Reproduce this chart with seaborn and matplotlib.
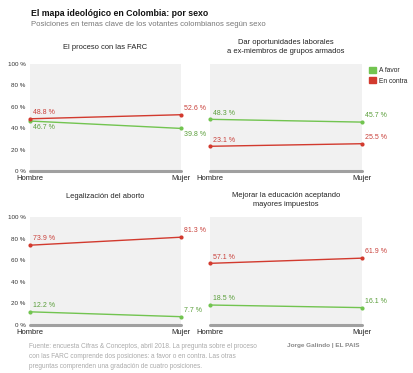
import pandas as pd
import seaborn as sns
import matplotlib.pyplot as plt
import matplotlib.patches as mpatches

# Datos (porcentaje)
sexos = ["Hombre", "Mujer"]
titulos = [
    "El proceso con las FARC",
    "Dar oportunidades laborales\na ex-miembros de grupos armados",
    "Legalización del aborto",
    "Mejorar la educación aceptando\nmayores impuestos",
]
a_favor = [
    [46.7, 39.8],
    [48.3, 45.7],
    [12.2, 7.7],
    [18.5, 16.1],
]
en_contra = [
    [48.8, 52.6],
    [23.1, 25.5],
    [73.9, 81.3],
    [57.1, 61.9],
]
yticks = [0, 20, 40, 60, 80, 100]

verde = "#72c450"
rojo = "#d23a2e"
verde_txt = "#5a9e3a"
rojo_txt = "#c9403a"

sns.set_theme(style="white")
plt.rcParams['font.family'] = ['Liberation Sans', 'DejaVu Sans']

fig = plt.figure(figsize=(4.14, 3.73), dpi=100)
W, H = 414, 373

# posiciones de los paneles en px: (izq, der, arriba, abajo)
cajas = [(30, 181, 64, 171), (210, 362, 64, 171), (30, 181, 217, 325), (210, 362, 217, 325)]
pads = [11, 8, 14, 8]

for i, (x0, x1, yt, yb) in enumerate(cajas):
    ax = fig.add_axes([x0 / W, 1 - yb / H, (x1 - x0) / W, (yb - yt) / H])
    ax.set_facecolor("#f1f1f1")
    df = pd.DataFrame({
        "x": [0, 1, 0, 1],
        "valor": a_favor[i] + en_contra[i],
        "serie": ["A favor", "A favor", "En contra", "En contra"],
    })
    sns.lineplot(data=df, x="x", y="valor", hue="serie",
                 palette={"A favor": verde, "En contra": rojo},
                 marker="o", markersize=3, markeredgewidth=0, linewidth=1,
                 legend=False, ax=ax)
    for l in ax.lines:
        l.set_clip_on(False)
    ax.set_xlim(0, 1)
    ax.set_ylim(0, 100)
    for s in ax.spines.values():
        s.set_visible(False)
    ax.axhline(0, color="#a0a0a0", lw=2.2, clip_on=False, zorder=1)
    ax.set_xticks([0, 1])
    ax.set_xticklabels(sexos, fontsize=5.5, color="#222222")
    ax.tick_params(axis="x", length=0, pad=3)
    ax.set_xlabel("")
    ax.set_ylabel("")
    if i % 2 == 0:
        ax.set_yticks(yticks)
        ax.set_yticklabels([f"{v} %" for v in yticks], fontsize=4.5, color="#333333")
        ax.tick_params(axis="y", length=0, pad=3)
    else:
        ax.set_yticks([])
    ax.set_title(titulos[i], fontsize=5.4, color="#222222", pad=pads[i],
                 linespacing=1.35)

    # etiquetas de valores
    for vals, col in ((a_favor[i], verde_txt), (en_contra[i], rojo_txt)):
        for j, v in enumerate(vals):
            abajo = (i == 0 and col == verde_txt)
            dy = -4.5 if abajo else 4.5
            ax.annotate(f"{v} %", (j, v), xytext=(2.5, dy), textcoords="offset points",
                        fontsize=5, color=col, ha="left", va="center",
                        annotation_clip=False)

    if i == 1:
        h = [mpatches.Patch(color=verde, label="A favor"),
             mpatches.Patch(color=rojo, label="En contra")]
        ax.legend(handles=h, loc="upper left", bbox_to_anchor=(1.03, 1.0), frameon=False,
                  fontsize=4.8, handlelength=1, handleheight=1, handletextpad=0.5,
                  labelspacing=0.5, borderaxespad=0)

fig.text(31 / W, 1 - 14 / H, "El mapa ideológico en Colombia: por sexo",
         fontsize=6.3, fontweight="bold", color="#111111", va="center")
fig.text(31 / W, 1 - 25 / H, "Posiciones en temas clave de los votantes colombianos según sexo",
         fontsize=5.6, color="#777777", va="center")
fig.text(29 / W, 1 - 342.5 / H,
         "Fuente: encuesta Cifras & Conceptos, abril 2018. La pregunta sobre el proceso\n"
         "con las FARC comprende dos posiciones: a favor o en contra. Las otras\n"
         "preguntas comprenden una gradación de cuatro posiciones.",
         fontsize=4.7, color="#aaaaaa", va="top", linespacing=1.6)
fig.text(287 / W, 1 - 346 / H, "Jorge Galindo | EL PAIS", fontsize=4.6,
         fontweight="bold", color="#888888", va="center")

fig.savefig("out.png", dpi=100)
